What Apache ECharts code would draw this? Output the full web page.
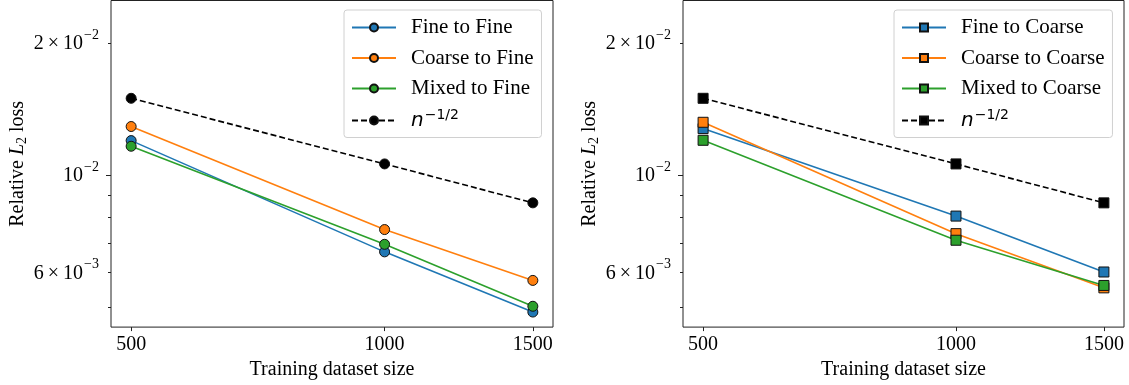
<!DOCTYPE html>
<html>
<head>
<meta charset="utf-8">
<script src="https://cdn.jsdelivr.net/npm/echarts@6/dist/echarts.min.js"></script>
<style>
html, body { margin: 0; padding: 0; background: #fff; }
#main { width: 1129px; height: 385px; }
</style>
</head>
<body>
<div id="main"></div>
<script>
// training set sizes (x)
var sizes = [500, 1000, 1500];

// left panel: tested on fine
var fineToFine = [0.01198, 0.00668, 0.00487];
var coarseToFine = [0.01290, 0.00751, 0.00575];
var mixedToFine = [0.01163, 0.00695, 0.00502];
// right panel: tested on coarse
var fineToCoarse = [0.01276, 0.00806, 0.00601];
var coarseToCoarse = [0.01319, 0.00735, 0.00553];
var mixedToCoarse = [0.01200, 0.00710, 0.00560];
// reference slope n^-1/2
var refRate = [0.01496, 0.01060, 0.00864];

var leftNames = ['Fine to Fine', 'Coarse to Fine', 'Mixed to Fine', 'refLeft'];
var rightNames = ['Fine to Coarse', 'Coarse to Coarse', 'Mixed to Coarse', 'refRight'];

// axis ticks
var xTicks = [500, 1000, 1500];
var yMinorTicks = [0.005, 0.006, 0.007, 0.008, 0.009, 0.02];
var yMajorTicks = [0.01];
var yLabelValues = [0.006, 0.01, 0.02];
var yLabelMant = ['6\u2009×\u2009', '', '2\u2009×\u2009'];
var yLabelExp = ['−3', '−2', '−2'];

var colors = ['#1f77b4', '#ff7f0e', '#2ca02c', '#000000'];
var serif = '"Liberation Serif", "Times New Roman", serif';

var myChart = echarts.init(document.getElementById('main'), null, {renderer: 'canvas'});

function pairs(ys) {
    var out = [];
    for (var i = 0; i < sizes.length; i++) {
        out.push([sizes[i], ys[i]]);
    }
    return out;
}

function yLabel(v) {
    for (var i = 0; i < yLabelValues.length; i++) {
        if (Math.abs(v - yLabelValues[i]) / yLabelValues[i] < 1e-6) {
            return '{b|' + yLabelMant[i] + '10}{s|' + yLabelExp[i] + '}';
        }
    }
    return '';
}

function legendLabel(name) {
    if (name === 'refLeft' || name === 'refRight') {
        return '{n|n}{s|−1/2}';
    }
    return name;
}

function makeSeries(name, ys, idx, symbol, gridIdx) {
    return {
        name: name,
        type: 'line',
        data: pairs(ys),
        xAxisIndex: gridIdx,
        yAxisIndex: gridIdx * 2,
        symbol: symbol,
        symbolSize: 10,
        showSymbol: true,
        lineStyle: {
            color: colors[idx],
            width: 1.6,
            type: idx === 3 ? [6, 3] : 'solid'
        },
        itemStyle: {
            color: colors[idx],
            borderColor: '#111',
            borderWidth: 1
        },
        emphasis: {disabled: true},
        z: 3
    };
}

var labelRich = {
    b: {fontFamily: serif, fontSize: 20, color: '#000', lineHeight: 22, verticalAlign: 'bottom'},
    s: {fontFamily: serif, fontSize: 14, color: '#000', lineHeight: 14, padding: [0, 0, 12, 1], verticalAlign: 'bottom'}
};

function xAxisFor(gridIdx) {
    return {
        type: 'log',
        logBase: 10,
        gridIndex: gridIdx,
        min: 473.2,
        max: 1585,
        name: 'Training dataset size',
        nameLocation: 'middle',
        nameGap: 30,
        nameTextStyle: {fontFamily: serif, fontSize: 20, color: '#000'},
        axisLine: {show: false},
        splitLine: {show: false},
        minorTick: {show: false},
        axisTick: {show: true, length: 4, customValues: xTicks, lineStyle: {color: '#222'}},
        axisLabel: {
            customValues: xTicks,
            margin: 8,
            fontFamily: serif,
            fontSize: 20,
            color: '#000',
            formatter: function (v) { return String(Math.round(v)); }
        }
    };
}

function yAxesFor(gridIdx) {
    return [{
        type: 'log',
        logBase: 10,
        gridIndex: gridIdx,
        position: 'left',
        min: 0.0045,
        max: 0.025,
        name: 'Relative {i|L}{sub|2} loss',
        nameLocation: 'middle',
        nameGap: 82,
        nameTextStyle: {
            fontFamily: serif, fontSize: 20, color: '#000',
            rich: {
                i: {fontFamily: serif, fontStyle: 'italic', fontSize: 20, color: '#000'},
                sub: {fontFamily: serif, fontSize: 14, color: '#000', padding: [8, 0, 0, 0]}
            }
        },
        axisLine: {show: false},
        splitLine: {show: false},
        axisTick: {show: true, length: 3, customValues: yMinorTicks, lineStyle: {color: '#222'}},
        axisLabel: {
            customValues: yLabelValues,
            margin: 12,
            formatter: yLabel,
            rich: labelRich
        }
    }, {
        type: 'log',
        logBase: 10,
        gridIndex: gridIdx,
        position: 'left',
        min: 0.0045,
        max: 0.025,
        axisLine: {show: false},
        splitLine: {show: false},
        axisTick: {show: true, length: 5, customValues: yMajorTicks, lineStyle: {color: '#222'}},
        axisLabel: {show: false}
    }];
}

function legendFor(names, left) {
    return {
        data: names,
        orient: 'vertical',
        left: left,
        top: 10,
        itemWidth: 44,
        itemHeight: 10,
        itemGap: 9.5,
        padding: [7, 8, 7, 7],
        backgroundColor: 'rgba(255,255,255,0.8)',
        borderColor: '#d0d0d0',
        borderWidth: 1,
        borderRadius: 3,
        selectedMode: false,
        formatter: legendLabel,
        textStyle: {
            fontFamily: serif,
            fontSize: 21,
            lineHeight: 20,
            color: '#000',
            padding: [0, 0, 0, 10],
            rich: {
                n: {fontFamily: '"DejaVu Sans", sans-serif', fontStyle: 'italic', fontSize: 20, color: '#000', lineHeight: 20, verticalAlign: 'bottom'},
                s: {fontFamily: '"DejaVu Sans", sans-serif', fontSize: 14, color: '#000', lineHeight: 12, padding: [0, 0, 8, 1], verticalAlign: 'bottom'}
            }
        }
    };
}

var option = {
    animation: false,
    backgroundColor: '#fff',
    grid: [
        {left: 111, top: 0.5, width: 442, height: 327, show: true, borderColor: '#222', borderWidth: 1, backgroundColor: 'transparent'},
        {left: 683, top: 0.5, width: 441, height: 327, show: true, borderColor: '#222', borderWidth: 1, backgroundColor: 'transparent'}
    ],
    xAxis: [xAxisFor(0), xAxisFor(1)],
    yAxis: yAxesFor(0).concat(yAxesFor(1)),
    legend: [legendFor(leftNames, 344), legendFor(rightNames, 894)],
    series: [
        makeSeries(leftNames[0], fineToFine, 0, 'circle', 0),
        makeSeries(leftNames[1], coarseToFine, 1, 'circle', 0),
        makeSeries(leftNames[2], mixedToFine, 2, 'circle', 0),
        makeSeries(leftNames[3], refRate, 3, 'circle', 0),
        makeSeries(rightNames[0], fineToCoarse, 0, 'rect', 1),
        makeSeries(rightNames[1], coarseToCoarse, 1, 'rect', 1),
        makeSeries(rightNames[2], mixedToCoarse, 2, 'rect', 1),
        makeSeries(rightNames[3], refRate, 3, 'rect', 1)
    ]
};

myChart.setOption(option);
</script>
</body>
</html>
